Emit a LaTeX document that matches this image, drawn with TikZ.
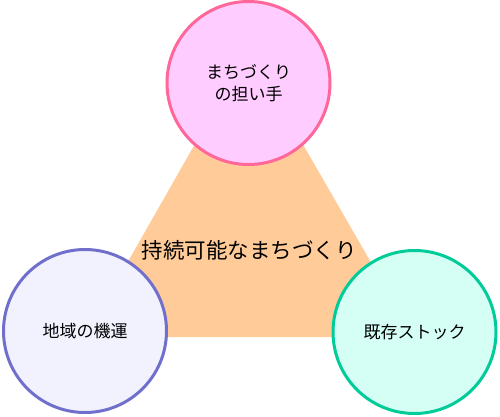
\documentclass[tikz,border=0pt]{standalone}
\usepackage{fontspec}
\setmainfont{Noto Sans CJK JP}
\definecolor{trifill}{HTML}{FFCC99}
\definecolor{pinkfill}{HTML}{FFCCFF}
\definecolor{pinkline}{HTML}{FF6699}
\definecolor{bluefill}{HTML}{F2F2FF}
\definecolor{blueline}{HTML}{7070CC}
\definecolor{greenfill}{HTML}{D5FFF5}
\definecolor{greenline}{HTML}{00CC99}
\tikzset{
  bubble/.style={circle, line width=3pt, minimum size=163pt, inner sep=0pt, align=center, font=\fontsize{17}{22}\selectfont},
  centertext/.style={font=\fontsize{21.5}{24}\selectfont, inner sep=0pt}
}
\begin{document}
\begin{tikzpicture}[x=1pt,y=-1pt]
\useasboundingbox (0,0) rectangle (500,416);
\coordinate (apex) at (248.5,50);
\coordinate (bl) at (85,337);
\coordinate (br) at (414,337);
\fill[trifill] (apex) -- (bl) -- (br) -- cycle;
\node[bubble, draw=pinkline, fill=pinkfill] (top) at (248.5,83) {まちづくり\\の担い手};
\node[bubble, draw=blueline, fill=bluefill] (left) at (85,331) {地域の機運};
\node[bubble, draw=greenline, fill=greenfill] (right) at (414.5,332) {既存ストック};
\node[centertext] (goal) at (249,250) {持続可能なまちづくり};
\end{tikzpicture}
\end{document}
